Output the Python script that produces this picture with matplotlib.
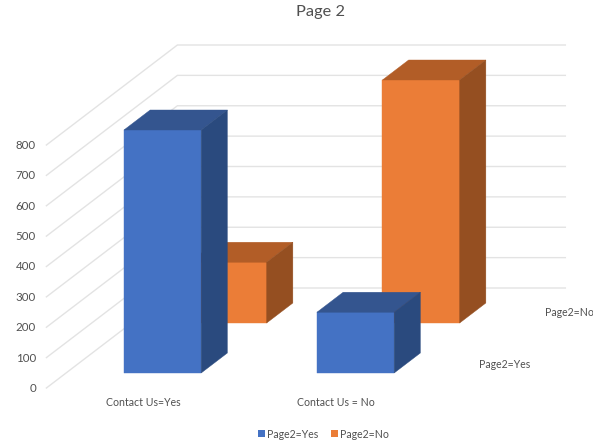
import matplotlib
matplotlib.use('Agg')
import matplotlib.pyplot as plt
from matplotlib.patches import Polygon, Rectangle

categories = ['Contact Us=Yes', 'Contact Us = No']
series_names = ['Page2=Yes', 'Page2=No']
page2_yes = [800, 200]
page2_no = [200, 800]
y_ticks = [0, 100, 200, 300, 400, 500, 600, 700, 800]

# front, top, side shade for each series
colors = [('#4472C4', '#34558F', '#2A4A7E'),
          ('#EB7D37', '#B25D27', '#954F21')]

plt.rcParams['font.family'] = ['Lato', 'DejaVu Sans']
text_color = '#505050'

fig = plt.figure(figsize=(5.93, 4.42), dpi=100)
ax = fig.add_axes([0, 0, 1, 1])
ax.set_xlim(0, 593)
ax.set_ylim(442, 0)
ax.axis('off')


# oblique projection: category position, series depth, value -> picture position
def project(c, s, v):
    return 46.4 + 193 * c + 65.5 * s, 388 - 50 * s - 0.30375 * v


# walls
for t in y_ticks:
    ax.plot(*zip(project(0, 0, t), project(0, 2, t), project(2.01, 2, t)),
            color='#E3E3E3', lw=1, zorder=1, solid_joinstyle='miter')
    x, y = project(0, 0, t)
    ax.text(36, y + 0.5, str(t), ha='right', va='center', fontsize=8.3, color=text_color)


def bar3d(c, s, value, shades):
    c0, c1 = c + 0.3, c + 0.7
    s0, s1 = s + 0.3, s + 0.7
    front = [project(c0, s0, 0), project(c1, s0, 0), project(c1, s0, value), project(c0, s0, value)]
    top = [project(c0, s0, value), project(c1, s0, value), project(c1, s1, value), project(c0, s1, value)]
    side = [project(c1, s0, 0), project(c1, s1, 0), project(c1, s1, value), project(c1, s0, value)]
    for pts, col in zip((front, top, side), shades):
        ax.add_patch(Polygon(pts, closed=True, facecolor=col, edgecolor=col, lw=0.3, zorder=2 + (1 - s) * 2))


# back series first so the front one covers it
for c, v in enumerate(page2_no):
    bar3d(c, 1, v, colors[1])
for c, v in enumerate(page2_yes):
    bar3d(c, 0, v, colors[0])

# axis labels
ax.text(143, 403, categories[0], ha='center', va='center', fontsize=7.6, color=text_color)
ax.text(335.5, 403, categories[1], ha='center', va='center', fontsize=7.6, color=text_color)
ax.text(504.5, 364, series_names[0], ha='center', va='center', fontsize=7.6, color=text_color)
ax.text(569, 313, series_names[1], ha='center', va='center', fontsize=7.6, color=text_color)

ax.text(321, 12, 'Page 2', ha='center', va='center', fontsize=11.8, color=text_color)

# legend
ax.add_patch(Rectangle((258, 430), 6.5, 6.5, facecolor=colors[0][0], edgecolor='none'))
ax.text(267, 434, series_names[0], ha='left', va='center', fontsize=7.6, color=text_color)
ax.add_patch(Rectangle((331, 430), 6.5, 6.5, facecolor=colors[1][0], edgecolor='none'))
ax.text(340, 434, series_names[1], ha='left', va='center', fontsize=7.6, color=text_color)

fig.savefig('out.png', dpi=100, facecolor='white')
